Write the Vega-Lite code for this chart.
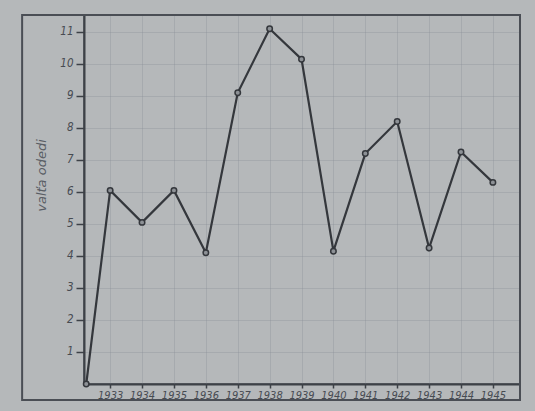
{
  "$schema": "https://vega.github.io/schema/vega-lite/v6.json",
  "width": 436,
  "height": 369,
  "autosize": {"type": "none"},
  "padding": {"left": 84, "top": 15, "right": 15, "bottom": 27},
  "background": "#b5b8ba",
  "config": {
    "view": {"stroke": "#454950", "strokeWidth": 1.5},
    "font": "DejaVu Sans",
    "axis": {
      "gridColor": "#8a9098",
      "gridOpacity": 0.35,
      "gridWidth": 1,
      "domainColor": "#3d4147",
      "domainWidth": 2,
      "tickColor": "#3d4147",
      "tickWidth": 1.5,
      "labelFont": "DejaVu Sans Condensed",
      "labelFontStyle": "italic",
      "labelColor": "#474b52",
      "labelFontSize": 11,
      "labelOverlap": false
    }
  },
  "datasets": {
    "series": [
      {"year": 1932.25, "value": 0},
      {"year": 1933, "value": 6.05},
      {"year": 1934, "value": 5.05},
      {"year": 1935, "value": 6.05},
      {"year": 1936, "value": 4.1},
      {"year": 1937, "value": 9.1},
      {"year": 1938, "value": 11.1},
      {"year": 1939, "value": 10.15},
      {"year": 1940, "value": 4.15},
      {"year": 1941, "value": 7.2},
      {"year": 1942, "value": 8.2},
      {"year": 1943, "value": 4.25},
      {"year": 1944, "value": 7.25},
      {"year": 1945, "value": 6.3}
    ],
    "paper": [{"x0": 1930.24, "x1": 1945.85, "y0": -0.5, "y1": 11.53}]
  },
  "layer": [
    {
      "data": {"name": "series"},
      "mark": {"type": "line", "color": "#34373c", "strokeWidth": 2.2,
        "point": {"filled": true, "fill": "#8d9196", "stroke": "#34373c", "strokeWidth": 1.5, "size": 30}},
      "encoding": {
        "x": {
          "field": "year", "type": "quantitative",
          "scale": {"domain": [1932.18, 1945.85], "nice": false, "zero": false},
          "axis": {
            "title": null,
            "values": [1933, 1934, 1935, 1936, 1937, 1938, 1939, 1940, 1941, 1942, 1943, 1944, 1945],
            "format": "d",
            "tickSize": 4,
            "labelPadding": 1,
            "labelFontSize": 11,
            "labelOverlap": false,
            "labelBound": false,
            "labelFlush": false
          }
        },
        "y": {
          "field": "value", "type": "quantitative",
          "scale": {"domain": [0, 11.53], "nice": false},
          "axis": {
            "title": "valťa odedi",
            "titleFont": "DejaVu Sans",
            "titleFontStyle": "italic",
            "titleFontWeight": "normal",
            "titleFontSize": 13,
            "titleColor": "#5a5e65",
            "titleX": -36,
            "titleY": 160,
            "values": [1, 2, 3, 4, 5, 6, 7, 8, 9, 10, 11],
            "tickSize": 8,
            "labelPadding": 3,
            "labelFontSize": 11.5,
            "labelOverlap": false
          }
        }
      }
    },
    {
      "data": {"name": "paper"},
      "mark": {"type": "rect", "fill": null, "stroke": "#4a4e55", "strokeWidth": 2, "clip": false},
      "encoding": {
        "x": {
          "field": "x0", "type": "quantitative",
          "axis": {
            "title": null,
            "values": [1933, 1934, 1935, 1936, 1937, 1938, 1939, 1940, 1941, 1942, 1943, 1944, 1945],
            "format": "d",
            "tickSize": 4,
            "labelPadding": 1,
            "labelFontSize": 11,
            "labelOverlap": false,
            "labelBound": false,
            "labelFlush": false
          }
        },
        "x2": {"field": "x1"},
        "y": {
          "field": "y0", "type": "quantitative",
          "axis": {
            "title": "valťa odedi",
            "titleFont": "DejaVu Sans",
            "titleFontStyle": "italic",
            "titleFontWeight": "normal",
            "titleFontSize": 13,
            "titleColor": "#5a5e65",
            "titleX": -36,
            "titleY": 160,
            "values": [1, 2, 3, 4, 5, 6, 7, 8, 9, 10, 11],
            "tickSize": 8,
            "labelPadding": 3,
            "labelFontSize": 11.5,
            "labelOverlap": false
          }
        },
        "y2": {"field": "y1"}
      }
    }
  ]
}
